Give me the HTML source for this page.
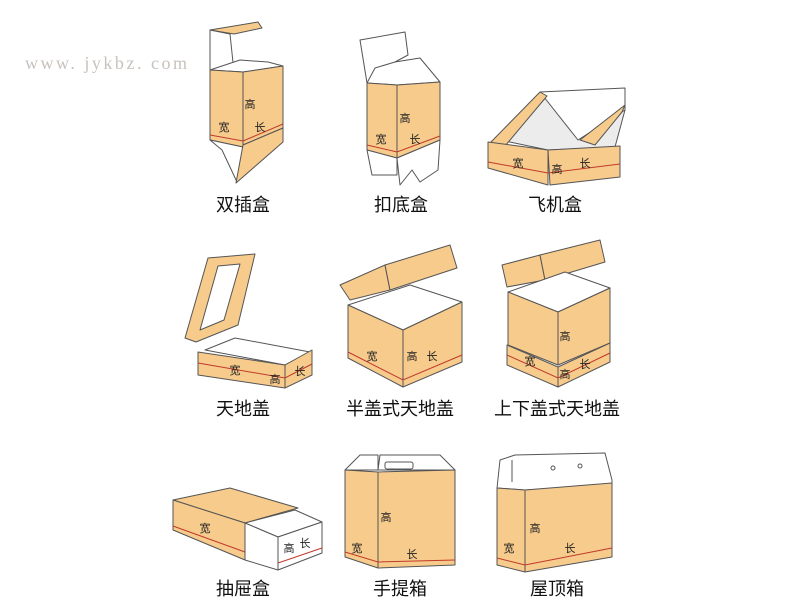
<!DOCTYPE html>
<html><head><meta charset="utf-8"><style>
html,body{margin:0;padding:0;background:#fff;}
svg{display:block;}
.o{fill:#f7cb8c;stroke:#555;stroke-width:1;stroke-linejoin:round}
.w{fill:#fff;stroke:#555;stroke-width:1;stroke-linejoin:round}
.g{fill:#ececec;stroke:#555;stroke-width:1;stroke-linejoin:round}
.r{stroke:#c0392b;stroke-width:1;fill:none}
.l{font-family:"Liberation Sans","Noto Sans CJK SC",sans-serif;font-size:18px;fill:#111;text-anchor:middle}
.s{font-family:"Liberation Sans","Noto Sans CJK SC",sans-serif;font-size:11px;fill:#222;text-anchor:middle}
</style></head><body>
<svg width="797" height="615" viewBox="0 0 797 615" xmlns="http://www.w3.org/2000/svg">
<text x="25" y="69" font-family="Liberation Serif,serif" font-size="18" fill="#c8c2bc" textLength="162" lengthAdjust="spacing">www. jykbz. com</text>

<!-- 1 双插盒 -->
<polygon class="w" points="210,30 230,34 234,72 210,70"/>
<polygon class="o" points="210,30 258,22 262,28 234,34"/>
<polygon class="w" points="210,70 240,60 268,62 283,66 243,72"/>
<polygon class="o" points="210,70 243,72 243,147 210,140"/>
<polygon class="o" points="243,72 283,66 283,128 243,145"/>
<polyline class="r" points="210,135 243,141 283,124"/>
<polygon class="w" points="210,140 243,147 237,182 222,150"/>
<polygon class="o" points="243,145 283,128 283,142 236,183"/>
<text class="s" x="250" y="108">高</text><text class="s" x="224" y="131">宽</text><text class="s" x="260" y="131">长</text>
<text class="l" x="243" y="211">双插盒</text>

<!-- 2 扣底盒 -->
<polygon class="w" points="360,40 405,32 408,55 395,62 367,83"/>
<polygon class="w" points="367,83 375,68 395,62 420,58 440,82 397,85"/>
<polygon class="o" points="367,83 397,85 397,158 367,150"/>
<polygon class="o" points="397,85 440,82 440,140 397,158"/>
<polyline class="r" points="367,145 397,152 440,136"/>
<polygon class="w" points="367,150 397,158 397,175 372,175"/>
<polygon class="w" points="397,158 440,140 438,170 420,182 412,170 400,185"/>
<text class="s" x="405" y="122">高</text><text class="s" x="381" y="143">宽</text><text class="s" x="415" y="143">长</text>
<text class="l" x="401" y="211">扣底盒</text>

<!-- 3 飞机盒 -->
<polygon class="g" points="500,140 545,92 560,95 620,95 625,110 615,147 548,150"/>
<polygon class="w" points="540,92 625,88 625,110 578,140"/>
<polygon class="o" points="490,143 540,92 547,96 505,146"/>
<polygon class="o" points="580,140 625,105 622,112 595,145"/>
<polygon class="o" points="488,142 548,150 548,185 488,168"/>
<polygon class="o" points="548,150 620,146 620,177 550,185"/>
<polyline class="r" points="488,162 548,173 620,164"/>
<text class="s" x="518" y="167">宽</text><text class="s" x="557" y="173">高</text><text class="s" x="585" y="167">长</text>
<text class="l" x="555" y="211">飞机盒</text>

<!-- 4 天地盖 -->
<polygon class="o" points="185,338 208,258 255,254 238,325 196,342"/>
<polygon class="w" points="200,330 218,266 240,264 224,320"/>
<polygon class="w" points="205,350 235,338 310,352 285,365"/>
<polygon class="o" points="198,352 285,365 285,388 198,375"/>
<polygon class="o" points="285,365 312,350 312,375 285,388"/>
<polyline class="r" points="198,363 285,378 312,364"/>
<text class="s" x="235" y="374">宽</text><text class="s" x="275" y="383">高</text><text class="s" x="300" y="375">长</text>
<text class="l" x="243" y="415">天地盖</text>

<!-- 5 半盖式 -->
<polygon class="o" points="340,285 385,265 390,290 350,300"/>
<polygon class="o" points="385,265 450,245 457,268 390,290"/>
<polygon class="w" points="348,305 410,285 462,302 403,330"/>
<polygon class="o" points="348,305 403,330 403,387 348,358"/>
<polygon class="o" points="403,330 462,302 462,362 403,387"/>
<polyline class="r" points="348,352 403,380 462,355"/>
<text class="s" x="372" y="360">宽</text><text class="s" x="412" y="360">高</text><text class="s" x="432" y="360">长</text>
<text class="l" x="400" y="415">半盖式天地盖</text>

<!-- 6 上下盖式 -->
<polygon class="o" points="502,265 540,255 545,280 507,287"/>
<polygon class="o" points="540,255 600,240 605,262 545,280"/>
<polygon class="w" points="508,292 565,272 610,288 558,312"/>
<polygon class="o" points="508,292 558,312 558,365 508,345"/>
<polygon class="o" points="558,312 610,288 610,343 558,365"/>
<polygon class="o" points="507,345 558,367 558,387 507,365"/>
<polygon class="o" points="558,367 610,343 610,362 558,387"/>
<polyline class="r" points="507,355 558,378 610,353"/>
<text class="s" x="565" y="340">高</text><text class="s" x="530" y="365">宽</text><text class="s" x="565" y="378">高</text><text class="s" x="585" y="368">长</text>
<text class="l" x="557" y="415">上下盖式天地盖</text>

<!-- 7 抽屉盒 -->
<polygon class="o" points="173,500 230,488 298,508 245,523"/>
<polygon class="o" points="173,500 245,523 245,560 173,530"/>
<polyline class="r" points="173,526 245,552"/>
<polygon class="w" points="245,523 295,510 322,522 278,537"/>
<polygon class="w" points="245,523 278,537 278,570 245,560"/>
<polygon class="w" points="278,537 322,522 322,553 278,570"/>
<polyline class="r" points="278,563 322,548"/>
<text class="s" x="205" y="532">宽</text><text class="s" x="289" y="552">高</text><text class="s" x="305" y="547">长</text>
<text class="l" x="243" y="595">抽屉盒</text>

<!-- 8 手提箱 -->
<polygon class="w" points="345,470 360,455 378,455 378,470"/>
<polygon class="w" points="378,470 380,455 440,455 455,470"/>
<rect x="385" y="462" width="28" height="7" rx="2" fill="#fff" stroke="#555"/>
<polygon class="o" points="345,470 378,472 378,568 345,557"/>
<polygon class="o" points="378,472 455,470 455,565 378,568"/>
<polyline class="r" points="345,552 378,562 455,560"/>
<text class="s" x="386" y="521">高</text><text class="s" x="357" y="552">宽</text><text class="s" x="412" y="558">长</text>
<text class="l" x="400" y="595">手提箱</text>

<!-- 9 屋顶箱 -->
<polygon class="w" points="500,460 515,455 605,453 612,480 612,485 525,490 497,488"/>
<line x1="512" y1="460" x2="512" y2="482" stroke="#555"/>
<circle cx="553" cy="468" r="2" fill="none" stroke="#555"/>
<circle cx="580" cy="466" r="2" fill="none" stroke="#555"/>
<polygon class="o" points="497,488 525,490 525,572 497,565"/>
<polygon class="o" points="525,490 612,483 612,557 525,572"/>
<polyline class="r" points="497,558 525,565 612,548"/>
<text class="s" x="535" y="532">高</text><text class="s" x="509" y="552">宽</text><text class="s" x="570" y="552">长</text>
<text class="l" x="557" y="595">屋顶箱</text>
</svg>
</body></html>
